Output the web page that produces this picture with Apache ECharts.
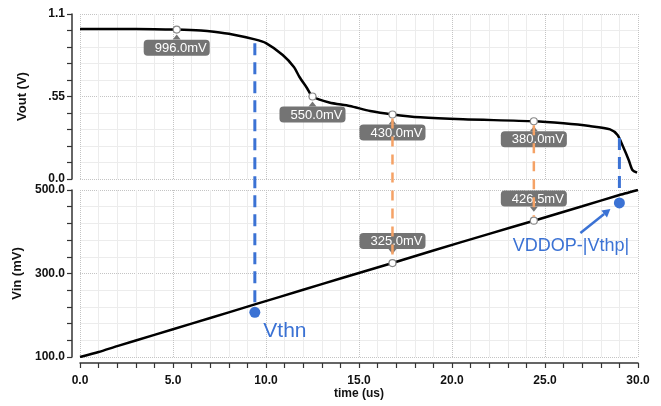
<!DOCTYPE html>
<html><head><meta charset="utf-8">
<script src="https://cdn.jsdelivr.net/npm/echarts@6/dist/echarts.min.js"></script>
<style>html,body{margin:0;padding:0;background:#fff}#c{width:661px;height:406px}</style>
</head><body><div id="c"></div>
<script>
// ---- data (time in us) ----
const voutCurve = [[0,1.0],[2,1.0],[4,0.998],[5.2,0.996],[6.5,0.99],[7.2,0.982],[8.2,0.964],[9.4,0.931],[10,0.906],[10.9,0.827],[11.5,0.747],[11.8,0.68],[12.2,0.607],[12.5,0.55],[13.4,0.51],[14.5,0.487],[15.6,0.453],[16.8,0.43],[18.3,0.411],[20.6,0.398],[24.4,0.385],[26,0.371],[27.4,0.353],[28.5,0.331],[28.9,0.293],[29.2,0.215],[29.5,0.127],[29.7,0.06],[29.95,0.042]];
const vinCurve = [[0,100],[1,112],[2,126],[4,153],[6,180],[8,207],[9.4,226],[12,261],[14,288],[16.8,325],[19,355],[22,395],[24.4,426.5],[27,461],[29,488],[30,500]];
const voutMarks = [[5.2,0.996],[12.5,0.55],[16.8,0.43],[24.4,0.385]];
const voutMarkLabels = ['996.0mV','550.0mV','430.0mV','380.0mV'];
const vinMarks = [[16.8,325],[24.4,426.5]];
const vinMarkLabels = ['325.0mV','426.5mV'];
const thresholdPoints = [[9.4,207],[29.0,469]];
const thresholdNames = ['Vthn','VDDOP-|Vthp|'];
const thresholdVoutTop = [0.925, 0.293];   // where blue drop lines start on Vout
const xTicks = {min:0, max:30, interval:5};
const yTopTicks = {min:0, max:1.1, interval:0.55};
const yBotTicks = {min:100, max:500, interval:200};

const FONT = 'Liberation Sans';
const BLUE = '#3b72d4';
const ORANGE = '#f5a266';
const BOX = '#747474';
const chart = echarts.init(document.getElementById('c'));

const splitMajor = {show:true, lineStyle:{color:'#c4c4c4', type:'dotted', width:1}};
const splitMinor = {show:true, lineStyle:{color:'#ececec', type:'solid', width:1}};
const axLine = {show:true, onZero:false, lineStyle:{color:'#333', width:1.5}};
const tick = {show:true, length:5, lineStyle:{color:'#333', width:1.2}};

function fmtTop(v){ if (Math.abs(v) < 1e-6) return '0.0'; if (Math.abs(v-0.55) < 1e-6) return '.55'; return '1.1'; }

const boxLabel = {backgroundColor:BOX, borderRadius:4, padding:[2,3,1,11], color:'#fff',
                  fontFamily:FONT, fontSize:13, lineHeight:13};

chart.setOption({
  animation:false,
  grid:[{left:80, right:23, top:14, height:165},{left:80, right:23, top:190, height:167}],
  xAxis:[
    {gridIndex:0, type:'value', min:xTicks.min, max:xTicks.max, interval:xTicks.interval,
     axisLine:{show:false}, axisTick:{show:false}, axisLabel:{show:false},
     minorTick:{show:false, splitNumber:5}, splitLine:splitMajor, minorSplitLine:splitMinor},
    {gridIndex:1, type:'value', min:xTicks.min, max:xTicks.max, interval:xTicks.interval, offset:6,
     axisLine:axLine, axisTick:tick, minorTick:{show:true, splitNumber:5, length:5, lineStyle:{color:'#333', width:1.2}},
     axisLabel:{formatter:v=>v.toFixed(1), fontFamily:FONT, fontSize:12, fontWeight:'bold', color:'#111', margin:12},
     splitLine:splitMajor, minorSplitLine:splitMinor,
     name:'time (us)', nameLocation:'middle', nameGap:25,
     nameTextStyle:{fontFamily:FONT, fontSize:12, fontWeight:'bold', color:'#111'}}
  ],
  yAxis:[
    {gridIndex:0, type:'value', min:yTopTicks.min, max:yTopTicks.max, interval:yTopTicks.interval, offset:8,
     axisLine:axLine, axisTick:tick, minorTick:{show:true, splitNumber:5, length:5, lineStyle:{color:'#333', width:1.2}},
     axisLabel:{formatter:fmtTop, fontFamily:FONT, fontSize:12, fontWeight:'bold', color:'#111', margin:7},
     splitLine:splitMajor, minorSplitLine:splitMinor,
     name:'Vout (V)', nameLocation:'middle', nameGap:43,
     nameTextStyle:{fontFamily:FONT, fontSize:13, fontWeight:'bold', color:'#111'}},
    {gridIndex:1, type:'value', min:yBotTicks.min, max:yBotTicks.max, interval:yBotTicks.interval, offset:8,
     axisLine:axLine, axisTick:tick, minorTick:{show:true, splitNumber:5, length:5, lineStyle:{color:'#333', width:1.2}},
     axisLabel:{formatter:v=>v.toFixed(1), fontFamily:FONT, fontSize:12, fontWeight:'bold', color:'#111', margin:7},
     splitLine:splitMajor, minorSplitLine:splitMinor,
     name:'Vin (mV)', nameLocation:'middle', nameGap:43,
     nameTextStyle:{fontFamily:FONT, fontSize:13, fontWeight:'bold', color:'#111'}}
  ],
  series:[
    {type:'line', xAxisIndex:0, yAxisIndex:0, data:voutCurve, showSymbol:false, smooth:0.25,
     lineStyle:{color:'#000', width:2.5}, z:3},
    {type:'line', xAxisIndex:1, yAxisIndex:1, data:vinCurve, showSymbol:false, smooth:0.2,
     lineStyle:{color:'#000', width:2.5}, z:3},
    {type:'scatter', xAxisIndex:0, yAxisIndex:0, data:voutMarks, symbol:'circle', symbolSize:7,
     itemStyle:{color:'#fff', borderColor:'#888', borderWidth:1.2, opacity:1}, z:5,
     label:Object.assign({show:true, position:'bottom', distance:6, formatter:p=>voutMarkLabels[p.dataIndex]}, boxLabel)},
    {type:'scatter', xAxisIndex:1, yAxisIndex:1, data:vinMarks, symbol:'circle', symbolSize:7,
     itemStyle:{color:'#fff', borderColor:'#888', borderWidth:1.2, opacity:1}, z:5,
     label:Object.assign({show:true, position:'top', distance:10, formatter:p=>vinMarkLabels[p.dataIndex]}, boxLabel)},
    {type:'scatter', xAxisIndex:1, yAxisIndex:1, symbol:'circle', symbolSize:11, itemStyle:{color:BLUE, opacity:1}, z:6,
     data:[
       {value:thresholdPoints[0], name:thresholdNames[0],
        label:{show:true, position:[14,24], align:'left', verticalAlign:'middle', formatter:'{b}', color:BLUE, fontFamily:FONT, fontSize:21}},
       {value:thresholdPoints[1], name:thresholdNames[1],
        label:{show:true, position:[-43,49], align:'center', verticalAlign:'middle', formatter:'{b}', color:BLUE, fontFamily:FONT, fontSize:18}}
     ]}
  ]
});

// drop lines, label notches and arrow, positioned through the chart's scales
const g = [];
function dash(p1, p2, color, w, d){
  g.push({type:'line', z:50, shape:{x1:p1[0], y1:p1[1], x2:p2[0], y2:p2[1]},
          style:{stroke:color, lineWidth:w, lineDash:d}});
}
function notch(x, yBase, dir){ // dir -1: points up, +1: points down
  g.push({type:'polygon', z:40, shape:{points:[[x-4, yBase], [x+4, yBase], [x, yBase + dir*5]]}, style:{fill:BOX}});
}
voutMarks.forEach(m => { const p = chart.convertToPixel({gridIndex:0}, m); notch(p[0], p[1] + 10, -1); });
vinMarks.forEach(m => { const p = chart.convertToPixel({gridIndex:1}, m); notch(p[0], p[1] - 14, 1); });
thresholdPoints.forEach((pt, i) => {
  const top = chart.convertToPixel({gridIndex:0}, [pt[0], thresholdVoutTop[i]]);
  const dot = chart.convertToPixel({gridIndex:1}, pt);
  dash([top[0], top[1] + 3], [dot[0], dot[1] - 8], BLUE, 3, [12, 7]);
});
voutMarks.forEach((m, i) => {
  const vm = vinMarks.find(v => v[0] === m[0]);
  if (!vm) return;
  const a = chart.convertToPixel({gridIndex:0}, m);
  const b = chart.convertToPixel({gridIndex:1}, vm);
  dash([a[0], a[1] + 4], [b[0], b[1] - 4], ORANGE, 2.5, [10, 8]);
});
const dp = chart.convertToPixel({gridIndex:1}, thresholdPoints[1]);
const s = [dp[0] - 39, dp[1] + 30], e = [dp[0] - 9, dp[1] + 6];
const ang = Math.atan2(e[1] - s[1], e[0] - s[0]);
const ah = 8, aw = 4.5;
const bx = e[0] - ah * Math.cos(ang), by = e[1] - ah * Math.sin(ang);
g.push({type:'line', z:50, shape:{x1:s[0], y1:s[1], x2:bx, y2:by}, style:{stroke:BLUE, lineWidth:2.5}});
g.push({type:'polygon', z:50, shape:{points:[[e[0], e[1]],
  [bx + aw * Math.sin(ang), by - aw * Math.cos(ang)],
  [bx - aw * Math.sin(ang), by + aw * Math.cos(ang)]]}, style:{fill:BLUE}});
chart.setOption({graphic:g});
</script></body></html>
